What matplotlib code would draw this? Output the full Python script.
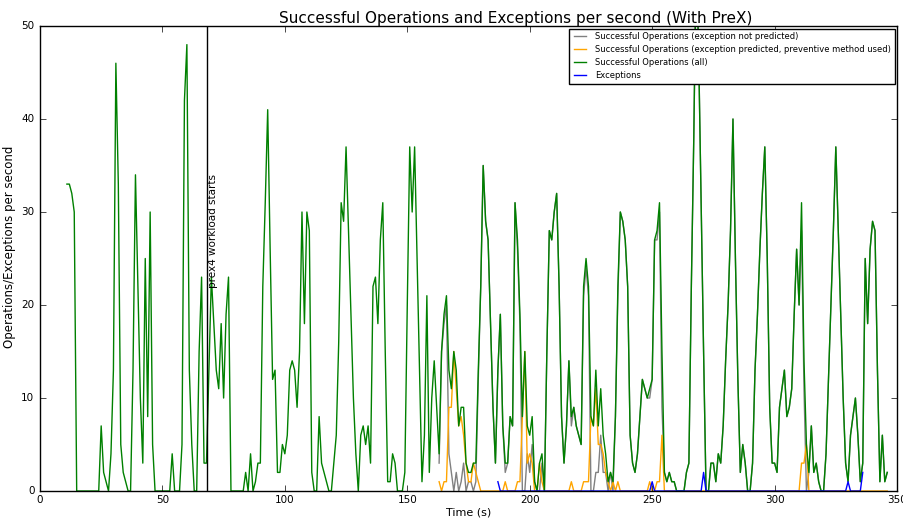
import numpy as np
import matplotlib
matplotlib.use('Agg')
import matplotlib.pyplot as plt

# old matplotlib look (ticks inside, boxed legend)
plt.style.use('classic')

# successful operations per second (all), one sample per second from t=11
ops_all = [
    33, 33, 32, 30, 0, 0, 0, 0, 0, 0,
    0, 0, 0, 0, 7, 2, 1, 0, 4, 13,
    46, 33, 5, 2, 1, 0, 0, 13, 34, 22,
    10, 3, 25, 8, 30, 5, 0, 0, 0, 0,
    0, 0, 0, 4, 0, 0, 0, 5, 42, 48,
    13, 5, 0, 0, 15, 23, 3, 3, 13, 23,
    18, 13, 11, 18, 10, 19, 23, 0, 0, 0,
    0, 0, 0, 2, 0, 4, 0, 1, 3, 3,
    22, 31, 41, 26, 12, 13, 2, 2, 5, 4,
    6, 13, 14, 13, 9, 15, 30, 18, 30, 28,
    2, 0, 0, 8, 3, 2, 1, 0, 0, 3,
    6, 16, 31, 29, 37, 28, 19, 10, 4, 0,
    6, 7, 5, 7, 3, 22, 23, 18, 27, 31,
    15, 1, 1, 4, 3, 0, 0, 0, 2, 20,
    37, 30, 37, 25, 13, 1, 6, 21, 2, 10,
    14, 9, 4, 15, 19, 21, 13, 11, 15, 13,
    7, 9, 9, 3, 2, 2, 3, 3, 13, 22,
    35, 29, 27, 18, 9, 3, 13, 19, 7, 3,
    3, 8, 7, 31, 27, 19, 8, 15, 7, 6,
    8, 1, 0, 3, 4, 0, 15, 28, 27, 30,
    32, 22, 8, 3, 7, 14, 8, 9, 7, 6,
    5, 22, 25, 22, 8, 7, 13, 7, 11, 6,
    4, 1, 2, 1, 8, 22, 30, 29, 27, 22,
    6, 3, 2, 4, 8, 12, 11, 10, 11, 12,
    27, 28, 31, 15, 2, 1, 2, 1, 1, 0,
    0, 0, 0, 2, 3, 22, 38, 58, 47, 31,
    15, 0, 0, 3, 3, 1, 4, 3, 7, 14,
    20, 28, 40, 25, 12, 2, 5, 3, 0, 0,
    3, 13, 19, 26, 32, 37, 25, 9, 3, 3,
    2, 9, 11, 13, 8, 9, 11, 19, 26, 20,
    31, 14, 5, 2, 7, 2, 3, 1, 0, 0,
    4, 12, 20, 28, 37, 28, 19, 10, 3, 1,
    6, 8, 10, 6, 1, 3, 25, 18, 26, 29,
    28, 13, 1, 6, 1, 2,
]

# exception not predicted, from t=163
ops_not_predicted = [
    3, 15, 18, 20, 4, 2, 0, 2, 0, 1,
    3, 0, 1, 1, 0, 1, 12, 22, 35, 29,
    27, 18, 9, 3, 13, 19, 7, 2, 3, 8,
    7, 31, 26, 18, 0, 0, 4, 2, 5, 1,
    0, 0, 3, 0, 15, 28, 27, 30, 32, 22,
    8, 3, 7, 14, 7, 9, 7, 6, 5, 21,
    24, 21, 0, 0, 2, 2, 6, 2, 2, 0,
    2, 0, 8, 21, 30, 29, 27, 22, 6, 3,
    2, 4, 8, 12, 11, 10, 10, 12, 27, 27,
    30, 9, 2, 1, 2, 1, 1, 0, 0, 0,
    0, 2, 3, 22, 38, 58, 47, 31, 15, 0,
    0, 3, 3, 1, 4, 3, 7, 14, 20, 28,
    40, 25, 12, 2, 5, 3, 0, 0, 3, 13,
    19, 26, 32, 37, 25, 9, 3, 3, 2, 9,
    11, 13, 8, 9, 11, 19, 26, 20, 28, 11,
    0, 2, 7, 2, 3, 1, 0, 0, 4, 12,
    20, 28, 37, 28, 19, 10, 3, 1, 6, 8,
    10, 6, 1, 3, 25, 18, 26, 29, 28, 13,
    1, 6, 1, 2,
]

# exception predicted, preventive method used, from t=163
ops_predicted = [
    1, 0, 1, 1, 9, 9, 15, 11, 7, 8,
    6, 3, 1, 1, 3, 2, 1, 0, 0, 0,
    0, 0, 0, 0, 0, 0, 0, 1, 0, 0,
    0, 0, 1, 1, 8, 15, 3, 4, 3, 0,
    0, 3, 1, 0, 0, 0, 0, 0, 0, 0,
    0, 0, 0, 0, 1, 0, 0, 0, 0, 1,
    1, 1, 8, 7, 11, 5, 5, 4, 2, 1,
    0, 1, 0, 1, 0, 0, 0, 0, 0, 0,
    0, 0, 0, 0, 0, 0, 1, 0, 0, 1,
    1, 6, 0, 0, 0, 0, 0, 0, 0, 0,
    0, 0, 0, 0, 0, 0, 0, 0, 0, 0,
    0, 0, 0, 0, 0, 0, 0, 0, 0, 0,
    0, 0, 0, 0, 0, 0, 0, 0, 0, 0,
    0, 0, 0, 0, 0, 0, 0, 0, 0, 0,
    0, 0, 0, 0, 0, 0, 0, 0, 3, 3,
    5, 0, 0, 0, 0, 0, 0, 0, 0, 0,
    0, 0, 0, 0, 0, 0, 0, 0, 0, 0,
    0, 0, 0, 0, 0, 0, 0, 0, 0, 0,
    0, 0, 0, 0,
]

# exceptions per second, from t=187
exceptions = [
    1, 0, 0, 0, 0, 0, 0, 0, 0, 0,
    0, 0, 0, 0, 0, 0, 0, 0, 0, 0,
    0, 0, 0, 0, 0, 0, 0, 0, 0, 0,
    0, 0, 0, 0, 0, 0, 0, 0, 0, 0,
    0, 0, 0, 0, 0, 0, 0, 0, 0, 0,
    0, 0, 0, 0, 0, 0, 0, 0, 0, 0,
    0, 0, 0, 1, 0, 0, 0, 0, 0, 0,
    0, 0, 0, 0, 0, 0, 0, 0, 0, 0,
    0, 0, 0, 0, 2, 0, 0, 0, 0, 0,
    0, 0, 0, 0, 0, 0, 0, 0, 0, 0,
    0, 0, 0, 0, 0, 0, 0, 0, 0, 0,
    0, 0, 0, 0, 0, 0, 0, 0, 0, 0,
    0, 0, 0, 0, 0, 0, 0, 0, 0, 0,
    0, 0, 0, 0, 0, 0, 0, 0, 0, 0,
    0, 0, 0, 1, 0, 0, 0, 0, 0, 2,
]

prex_start = 68.3

t_all = np.arange(11, 11 + len(ops_all))
t_pred = np.arange(163, 163 + len(ops_predicted))
t_exc = np.arange(187, 187 + len(exceptions))

fig = plt.figure(figsize=(9.04, 5.18), dpi=100, facecolor='white')
ax = fig.add_axes([0.0442, 0.0521, 0.9481, 0.8977])

ax.plot(t_pred, ops_not_predicted, color='grey', linewidth=1,
        label='Successful Operations (exception not predicted)')
ax.plot(t_pred, ops_predicted, color='orange', linewidth=1,
        label='Successful Operations (exception predicted, preventive method used)')
ax.plot(t_all, ops_all, color='green', linewidth=1,
        label='Successful Operations (all)')
ax.plot(t_exc, exceptions, color='blue', linewidth=1, label='Exceptions')

# start of the prex4 workload
ax.axvline(prex_start, color='black', linewidth=1)
ax.text(prex_start + 0.3, 21.8, 'prex4 workload starts', rotation=90,
        ha='left', va='bottom', fontsize=7.5)

ax.set_xlim(0, 350)
ax.set_ylim(0, 50)
ax.set_xticks(np.arange(0, 351, 50))
ax.set_yticks(np.arange(0, 51, 10))
ax.tick_params(labelsize=7.5)
ax.tick_params(axis='x', pad=3)

ax.set_title('Successful Operations and Exceptions per second (With PreX)',
             fontsize=11, x=0.555, pad=2)
ax.set_xlabel('Time (s)', fontsize=8)
ax.xaxis.set_label_coords(0.5, -0.036)
ax.set_ylabel('Operations/Exceptions per second', fontsize=8.5)
ax.yaxis.set_label_coords(-0.028, 0.525)

ax.legend(loc='upper right', fontsize=6, handlelength=2, borderaxespad=0.3)

plt.savefig('out.png', dpi=100, facecolor='white')
